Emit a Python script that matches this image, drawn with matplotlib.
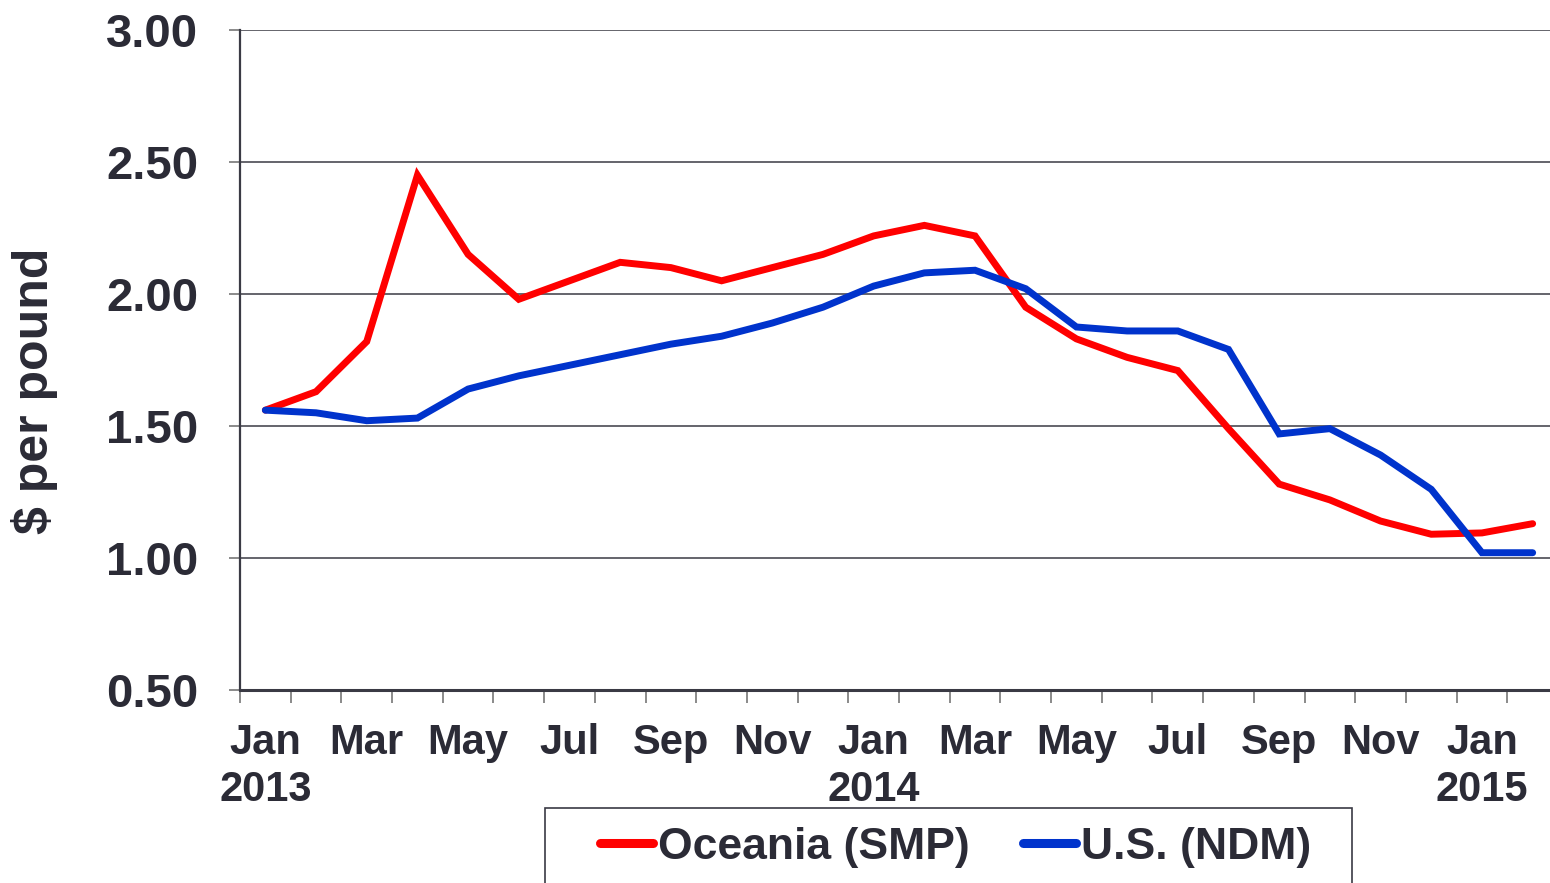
import matplotlib
matplotlib.use("Agg")
import matplotlib.pyplot as plt
from matplotlib.patches import Rectangle
from matplotlib.ticker import FixedLocator, NullFormatter


months = ["Jan", "Feb", "Mar", "Apr", "May", "Jun", "Jul", "Aug", "Sep", "Oct", "Nov", "Dec"] * 2 + ["Jan", "Feb"]
years = {0: "2013", 12: "2014", 24: "2015"}

oceania_smp = [1.56, 1.63, 1.82, 2.45, 2.15, 1.98, 2.05, 2.12, 2.10, 2.05, 2.10, 2.15, 2.22,
               2.26, 2.22, 1.95, 1.83, 1.76, 1.71, 1.49, 1.28, 1.22, 1.14, 1.09, 1.095, 1.13]
us_ndm = [1.56, 1.55, 1.52, 1.53, 1.64, 1.69, 1.73, 1.77, 1.81, 1.84, 1.89, 1.95, 2.03,
          2.08, 2.09, 2.02, 1.875, 1.86, 1.86, 1.79, 1.47, 1.49, 1.39, 1.26, 1.02, 1.02]

y_ticks = [0.5, 1.0, 1.5, 2.0, 2.5, 3.0]

TEXT = "#2b2b36"
plt.rcParams["font.family"] = ["Liberation Sans", "DejaVu Sans"]
plt.rcParams["font.weight"] = "bold"

W, H = 1550, 883
fig = plt.figure(figsize=(W / 100, H / 100), dpi=100)
ax = fig.add_axes([240 / W, 1 - 690 / H, 1318 / W, 660 / H])

x = list(range(len(months)))
ax.plot(x, oceania_smp, color="#ff0000", linewidth=5, solid_capstyle="round",
        solid_joinstyle="miter", label="Oceania (SMP)", zorder=3)
ax.plot(x, us_ndm, color="#0033cc", linewidth=5, solid_capstyle="round",
        solid_joinstyle="miter", label="U.S. (NDM)", zorder=3)

ax.set_xlim(-0.5, len(months) - 0.5)
ax.set_ylim(0.5, 3.0)

ax.set_yticks(y_ticks)
ax.set_yticklabels([f"{v:.2f}" for v in y_ticks], fontsize=34, fontweight="bold", color=TEXT)
ax.tick_params(axis="y", length=8, width=1.2, color="#777777", pad=22)
ax.yaxis.grid(True, color="#3a3a44", linewidth=1.1)
ax.set_axisbelow(True)

label_pos = x[::2]
labels = [months[i] + ("\n" + years[i] if i in years else "") for i in label_pos]
ax.set_xticks(label_pos)
ax.set_xticklabels(labels, fontsize=30, fontweight="bold", color=TEXT, linespacing=1.2)
ax.tick_params(axis="x", which="major", length=0, pad=24)
ax.xaxis.set_minor_locator(FixedLocator([i - 0.5 for i in range(len(months) + 1)]))
ax.xaxis.set_minor_formatter(NullFormatter())
ax.tick_params(axis="x", which="minor", length=9, width=1.2, color="#777777")

for side in ("top", "right"):
    ax.spines[side].set_visible(False)
ax.spines["left"].set_color("#3a3a44")
ax.spines["left"].set_linewidth(1.6)
ax.spines["bottom"].set_color("#3a3a44")
ax.spines["bottom"].set_linewidth(2.2)

fig.text(35 / W, 1 - 391 / H, "$ per pound", rotation=90, ha="center", va="center",
         fontsize=36, fontweight="bold", color=TEXT)

leg = fig.legend(loc="center left", bbox_to_anchor=(600 / W, 1 - 847 / H), ncol=2,
                 frameon=False, fontsize=32, handlelength=1.2, handletextpad=0.1,
                 columnspacing=1.2, borderpad=0, borderaxespad=0)
for line in leg.get_lines():
    line.set_linewidth(6.5)
    line.set_solid_capstyle("round")
for t in leg.get_texts():
    t.set_color(TEXT)
    t.set_fontweight("bold")

fig.patches.append(Rectangle((545 / W, 1 - 900 / H), 807 / W, 92 / H, transform=fig.transFigure,
                             fill=False, edgecolor="#3a3a44", linewidth=1.2))

fig.savefig("out.png", dpi=100)
